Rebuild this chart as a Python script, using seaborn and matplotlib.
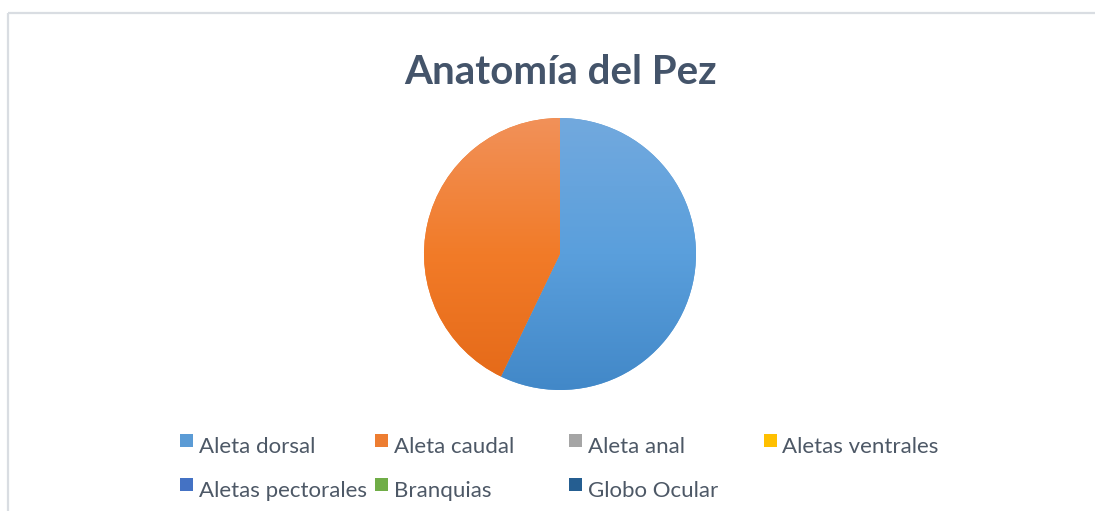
import numpy as np
import matplotlib
matplotlib.use("Agg")
import matplotlib.pyplot as plt
from matplotlib.patches import Rectangle
from matplotlib.colors import LinearSegmentedColormap
import seaborn as sns

# Data
categories = ["Aleta dorsal", "Aleta caudal", "Aleta anal", "Aletas ventrales",
              "Aletas pectorales", "Branquias", "Globo Ocular"]
values = [4, 3, 0, 0, 0, 0, 0]
colors = ["#5b9bd5", "#ed7d31", "#a5a5a5", "#ffc000", "#4472c4", "#70ad47", "#255e91"]
# top / middle / bottom shades for the gradient fill of each slice
shade_top = ["#72a9de", "#f19159", "#b5b5b5", "#ffcb33", "#5a84cf", "#82b95c", "#33699c"]
shade_mid = ["#5a9fdc", "#f27b28", "#a8a8a8", "#ffc21a", "#4876c8", "#72b04a", "#275f94"]
shade_bottom = ["#4288c8", "#e46918", "#959595", "#f0b400", "#3a64b4", "#609c3c", "#1d5284"]
title = "Anatomía del Pez"

sns.set_theme(style="white")
plt.rcParams["font.family"] = ["Lato", "DejaVu Sans"]

W, H = 1095, 511
fig = plt.figure(figsize=(W / 100, H / 100), dpi=100)
fig.patch.set_facecolor("white")

# Background layer in pixel coordinates: frame, title, legend
bg = fig.add_axes([0, 0, 1, 1])
bg.set_xlim(0, W)
bg.set_ylim(H, 0)
bg.axis("off")
bg.add_patch(Rectangle((8, 13), W, H, fill=False, edgecolor="#d9dde2", lw=1.6))
bg.text(561, 84, title, ha="center", va="baseline", fontsize=29,
        fontweight="bold", color="#44546a")

# Pie
cx, cy, r = 560, 254, 136
pax = fig.add_axes([(cx - r) / W, 1 - (cy + r) / H, 2 * r / W, 2 * r / H])
wedges, _ = pax.pie(values, startangle=90, counterclock=False, colors=colors,
                    radius=1, wedgeprops=dict(linewidth=0))
grad = np.linspace(0, 1, 256).reshape(-1, 1)
for i, w in enumerate(wedges):
    if values[i] <= 0:
        continue
    cmap = LinearSegmentedColormap.from_list(
        f"g{i}", [(0.0, shade_top[i]), (0.5, shade_mid[i]), (1.0, shade_bottom[i])])
    im = pax.imshow(grad, extent=[-1, 1, -1, 1], origin="upper", cmap=cmap,
                    aspect="auto", zorder=2, interpolation="bilinear")
    im.set_clip_path(w)
pax.set_xlim(-1, 1)
pax.set_ylim(-1, 1)
pax.axis("off")

# Legend: 4 columns, 2 rows
col_x = [180, 374.5, 569, 763.5]
row_y = [434, 478]
sq = 13
for k, (lab, c) in enumerate(zip(categories, colors)):
    x = col_x[k % 4]
    y = row_y[k // 4]
    bg.add_patch(Rectangle((x, y), sq, sq, facecolor=c, edgecolor="none"))
    bg.text(x + 19, y + 19, lab, ha="left", va="baseline", fontsize=16,
            color="#4d5866")

fig.savefig("out.png", dpi=100, facecolor="white")
